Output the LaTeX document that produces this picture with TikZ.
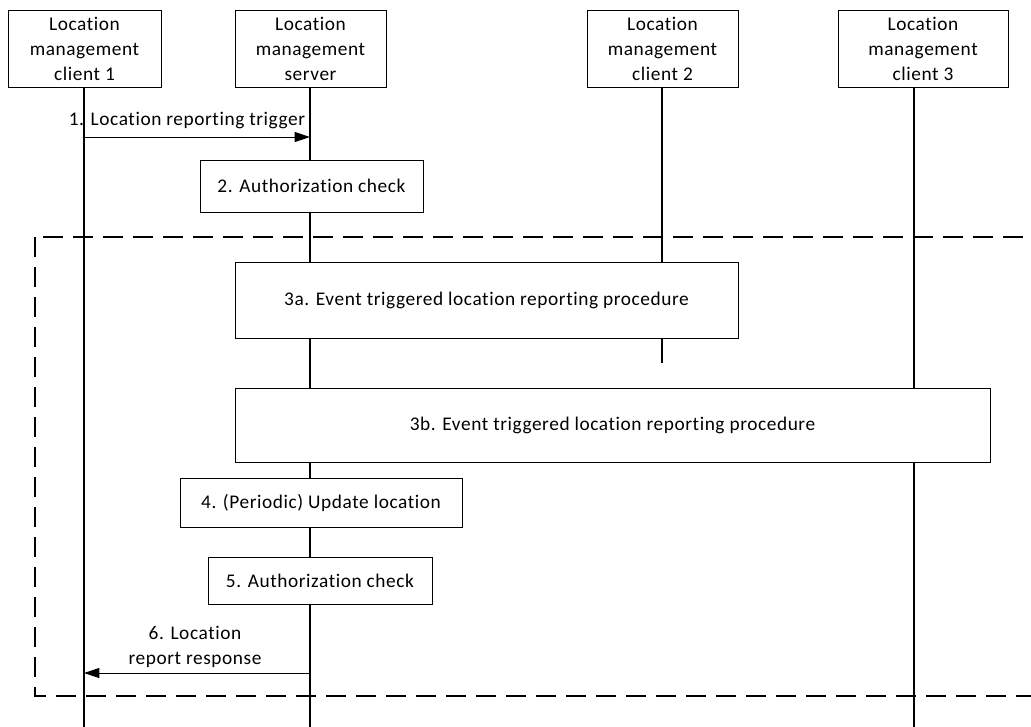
\documentclass[tikz,border=0pt]{standalone}
\usepackage{fontspec}
\setmainfont[LetterSpace=3,Ligatures=CommonOff]{Carlito}
\usetikzlibrary{arrows.meta}
\begin{document}
\begin{tikzpicture}[x=0.75pt,y=-0.75pt,
  txt/.style={font=\fontsize{14.5}{18.75}\selectfont},
  box/.style={draw,line width=0.75pt,fill=white,align=center,inner sep=0pt,txt},
  life/.style={line width=1.5pt},
  msg/.style={line width=0.75pt,-{Triangle[length=11.5pt,width=7.5pt]}},
  frame/.style={line width=1.5pt,dash pattern=on 15pt off 7.5pt}]
\useasboundingbox (0,0) rectangle (1031,726);
\clip (0,0) rectangle (1031,726);
% headers
\node[box,minimum width=114.75pt,minimum height=57.75pt] (c1) at (84.5,48.5) {Location\\management\\client 1};
\node[box,minimum width=113.25pt,minimum height=57.75pt] (srv) at (310.5,48.5) {Location\\management\\server};
\node[box,minimum width=113.25pt,minimum height=57.75pt] (c2) at (662.5,48.5) {Location\\management\\client 2};
\node[box,minimum width=127.5pt,minimum height=57.75pt] (c3) at (923,48.5) {Location\\management\\client 3};
% lifeline ends
\coordinate (c1e) at (84,730);
\coordinate (srve) at (310,730);
\coordinate (c2e) at (662,363);
\coordinate (c3e) at (914,730);
\draw[life] (c1.south -| c1e) -- (c1e);
\draw[life] (srv.south -| srve) -- (srve);
\draw[life] (c2.south -| c2e) -- (c2e);
\draw[life] (c3.south -| c3e) -- (c3e);
% dashed frame
\coordinate (fa) at (35,237);
\coordinate (fb) at (1045,696);
\draw[frame] (fa) rectangle (fb);
% message 1
\coordinate (m1a) at (84,137);
\coordinate (m1b) at (310,137);
\draw[msg] (m1a) -- (m1b);
\node[txt,anchor=south,inner sep=0pt] (l1) at (187,129) {1. Location reporting trigger};
% boxes
\node[box,minimum width=167.25pt,minimum height=39pt] (b2) at (311.5,186) {2. Authorization check};
\node[box,minimum width=377.25pt,minimum height=57pt] (b3a) at (486.5,300) {3a. Event triggered location reporting procedure};
\node[box,minimum width=566.25pt,minimum height=55.5pt] (b3b) at (612.5,425) {3b. Event triggered location reporting procedure};
\node[box,minimum width=211.5pt,minimum height=36.75pt] (b4) at (321,502.5) {4. (Periodic) Update location};
\node[box,minimum width=168pt,minimum height=35.25pt] (b5) at (320,580.5) {5. Authorization check};
% message 6
\coordinate (m6a) at (310,673);
\coordinate (m6b) at (84,673);
\draw[msg] (m6a) -- (m6b);
\node[txt,anchor=south,align=center,inner sep=0pt] (l6) at (195,668) {6. Location\\report response};
\end{tikzpicture}
\end{document}
